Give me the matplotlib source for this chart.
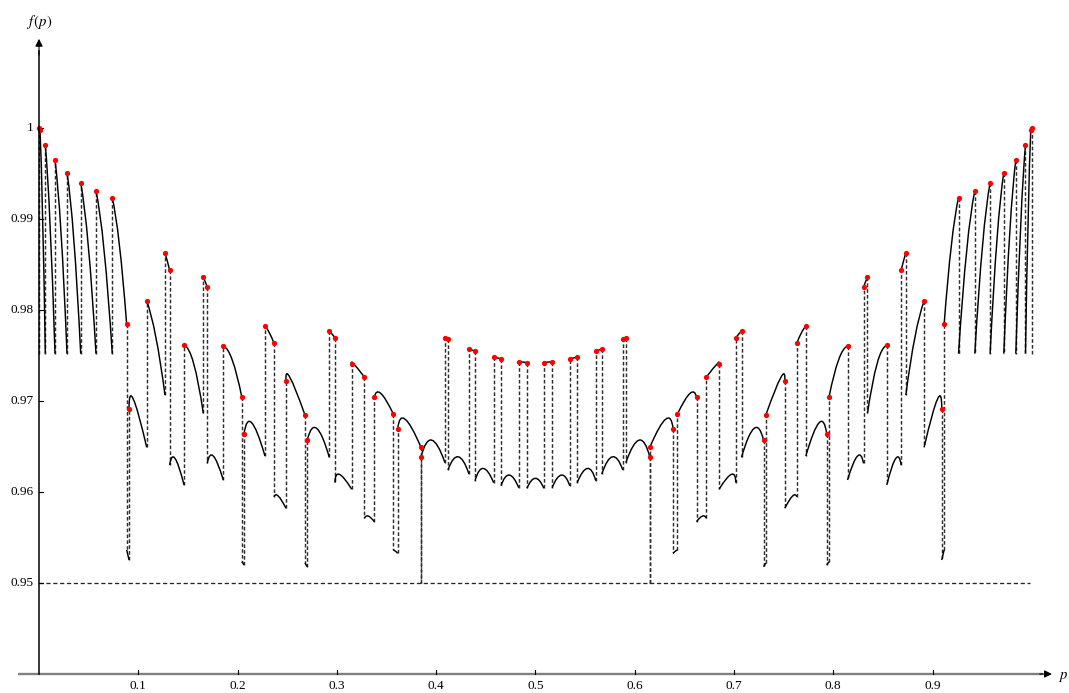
import numpy as np
import matplotlib.pyplot as plt
from matplotlib.path import Path
from matplotlib.patches import PathPatch

plt.rcParams['font.family'] = ['Liberation Serif', 'DejaVu Serif']
plt.rcParams['mathtext.fontset'] = 'stix'

# discontinuity points of f(p)
breaks = [0.0010, 0.00635, 0.01612, 0.0282, 0.0420, 0.0574, 0.0738, 0.0883, 0.0907, 0.1085,
          0.1269, 0.1316, 0.1461, 0.1655, 0.1695, 0.1856, 0.2042, 0.2065, 0.2276, 0.2367,
          0.2488, 0.2679, 0.2702, 0.2924, 0.2981, 0.3150, 0.3277, 0.3377, 0.3569, 0.3613,
          0.3845, 0.3848, 0.4089, 0.4120, 0.4331, 0.4392, 0.4580, 0.4654, 0.4832, 0.4915,
          0.5085, 0.5168, 0.5346, 0.5420, 0.5608, 0.5669, 0.5880, 0.5911, 0.6152, 0.6155,
          0.6387, 0.6431, 0.6623, 0.6723, 0.6850, 0.7019, 0.7076, 0.7298, 0.7321, 0.7512,
          0.7633, 0.7724, 0.7935, 0.7958, 0.8144, 0.8305, 0.8345, 0.8539, 0.8684, 0.8731,
          0.8915, 0.9093, 0.9117, 0.9262, 0.9426, 0.9580, 0.9718, 0.98388, 0.99365, 0.9990]

# value just after each break (segment start)
seg_start = [0.99978, 0.99816, 0.99648, 0.99509, 0.99399, 0.99308, 0.99234, 0.95363, 0.96915, 0.98099,
             0.98630, 0.96297, 0.97612, 0.98359, 0.96315, 0.97604, 0.95234, 0.96637, 0.97824, 0.95948,
             0.97223, 0.95220, 0.96571, 0.97769, 0.96102, 0.97407, 0.95711, 0.97041, 0.95363, 0.96696,
             0.9500, 0.96385, 0.97689, 0.96242, 0.97571, 0.96124, 0.97480, 0.96069, 0.97429, 0.96041,
             0.97421, 0.96047, 0.97462, 0.96102, 0.97549, 0.96198, 0.97678, 0.96322, 0.9500, 0.96498,
             0.95326, 0.96857, 0.95674, 0.97264, 0.96030, 0.97696, 0.96381, 0.95179, 0.96846, 0.95821,
             0.97634, 0.96396, 0.95198, 0.97047, 0.96132, 0.98253, 0.96865, 0.96077, 0.98436, 0.97066,
             0.96491, 0.95253, 0.97843, 0.9752, 0.9752, 0.9752, 0.9752, 0.9752, 0.9752]

# a point inside each segment (peak or middle)
seg_mid_p = [0.0037, 0.0112, 0.0222, 0.0351, 0.0497, 0.0656, 0.0810, 0.0895, 0.0950, 0.1177,
             0.1292, 0.1370, 0.1558, 0.1675, 0.1756, 0.1947, 0.2053, 0.2142, 0.2321, 0.2410,
             0.2528, 0.2690, 0.2797, 0.2952, 0.3025, 0.3166, 0.3317, 0.3442, 0.3591, 0.3687,
             0.38465, 0.3955, 0.4105, 0.4223, 0.4361, 0.4475, 0.4617, 0.4737, 0.4873, 0.5000,
             0.5127, 0.5263, 0.5383, 0.5525, 0.5639, 0.5777, 0.5895, 0.6045, 0.61535, 0.6313,
             0.6409, 0.6558, 0.6683, 0.6834, 0.6975, 0.7048, 0.7203, 0.7310, 0.7472, 0.7590,
             0.7679, 0.7858, 0.7947, 0.8053, 0.8244, 0.8325, 0.8442, 0.8630, 0.8708, 0.8823,
             0.9050, 0.9105, 0.9190, 0.9344, 0.9503, 0.9649, 0.9778, 0.9888, 0.9963]
seg_mid_f = [0.9905, 0.9895, 0.9886, 0.9878, 0.9871, 0.9866, 0.9872, 0.9531, 0.97022, 0.97707,
             0.9854, 0.96370, 0.97414, 0.98310, 0.96396, 0.97451, 0.9522, 0.96762, 0.9775, 0.95956,
             0.97260, 0.9520, 0.96700, 0.97735, 0.96195, 0.97414, 0.95736, 0.97085, 0.9535, 0.96802,
             0.9500, 0.96571, 0.97690, 0.96388, 0.9756, 0.96260, 0.97474, 0.96187, 0.97428, 0.96151,
             0.97428, 0.96187, 0.97474, 0.96260, 0.9756, 0.96388, 0.97690, 0.96571, 0.9500, 0.96802,
             0.9535, 0.97085, 0.95736, 0.97414, 0.96195, 0.97735, 0.96700, 0.9520, 0.97260, 0.95956,
             0.9775, 0.96762, 0.9522, 0.97451, 0.96396, 0.98310, 0.97414, 0.96370, 0.9854, 0.97707,
             0.97022, 0.9531, 0.9872, 0.9866, 0.9871, 0.9878, 0.9886, 0.9895, 0.9905]

# value just before the next break (segment end)
seg_end = [0.9752, 0.9752, 0.9752, 0.9752, 0.9752, 0.9752, 0.97843, 0.95253, 0.96491, 0.97066,
           0.98436, 0.96077, 0.96865, 0.98253, 0.96132, 0.97047, 0.95198, 0.96396, 0.97634, 0.95821,
           0.96846, 0.95179, 0.96381, 0.97696, 0.96030, 0.97264, 0.95674, 0.96857, 0.95326, 0.96498,
           0.9500, 0.96322, 0.97678, 0.96198, 0.97549, 0.96102, 0.97462, 0.96047, 0.97421, 0.96041,
           0.97429, 0.96069, 0.97480, 0.96124, 0.97571, 0.96242, 0.97689, 0.96385, 0.9500, 0.96696,
           0.95363, 0.97041, 0.95711, 0.97407, 0.96102, 0.97769, 0.96571, 0.95220, 0.97223, 0.95948,
           0.97824, 0.96637, 0.95234, 0.97604, 0.96315, 0.98359, 0.97612, 0.96297, 0.98630, 0.98099,
           0.96915, 0.95363, 0.99234, 0.99308, 0.99399, 0.99509, 0.99648, 0.99816, 0.99978]

# red points f(p) at the breaks
dot_p = [0.0, 0.0010, 0.00635, 0.01612, 0.0282, 0.0420, 0.0574, 0.0738, 0.0883, 0.0907,
         0.1085, 0.1269, 0.1316, 0.1461, 0.1655, 0.1695, 0.1856, 0.2042, 0.2065, 0.2276,
         0.2367, 0.2488, 0.2679, 0.2702, 0.2924, 0.2981, 0.3150, 0.3277, 0.3377, 0.3569,
         0.3613, 0.3845, 0.3848, 0.4089, 0.4120, 0.4331, 0.4392, 0.4580, 0.4654, 0.4832,
         0.4915, 0.5085, 0.5168, 0.5346, 0.5420, 0.5608, 0.5669, 0.5880, 0.5911, 0.6152,
         0.6155, 0.6387, 0.6431, 0.6623, 0.6723, 0.6850, 0.7019, 0.7076, 0.7298, 0.7321,
         0.7512, 0.7633, 0.7724, 0.7935, 0.7958, 0.8144, 0.8305, 0.8345, 0.8539, 0.8684,
         0.8731, 0.8915, 0.9093, 0.9117, 0.9262, 0.9426, 0.9580, 0.9718, 0.98388, 0.99365,
         0.9990, 1.0]
dot_f = [1.0, 0.99978, 0.99816, 0.99648, 0.99509, 0.99399, 0.99308, 0.99234, 0.97843, 0.96915,
         0.98099, 0.98630, 0.98436, 0.97612, 0.98359, 0.98253, 0.97604, 0.97047, 0.96637, 0.97824,
         0.97634, 0.97223, 0.96846, 0.96571, 0.97769, 0.97696, 0.97407, 0.97264, 0.97041, 0.96857,
         0.96696, 0.96498, 0.96385, 0.97689, 0.97678, 0.97571, 0.97549, 0.97480, 0.97462, 0.97429,
         0.97421, 0.97421, 0.97429, 0.97462, 0.97480, 0.97549, 0.97571, 0.97678, 0.97689, 0.96385,
         0.96498, 0.96696, 0.96857, 0.97041, 0.97264, 0.97407, 0.97696, 0.97769, 0.96571, 0.96846,
         0.97223, 0.97634, 0.97824, 0.96637, 0.97047, 0.97604, 0.98253, 0.98359, 0.97612, 0.98436,
         0.98630, 0.98099, 0.96915, 0.97843, 0.99234, 0.99308, 0.99399, 0.99509, 0.99648, 0.99816,
         0.99978, 1.0]

edge_p = [0.0, 1.0]
edge_low = [0.9752, 0.9752]
edge_high = [1.0, 1.0]

level = 0.95
x_ticks = [0.1, 0.2, 0.3, 0.4, 0.5, 0.6, 0.7, 0.8, 0.9]
x_labels = ['0.1', '0.2', '0.3', '0.4', '0.5', '0.6', '0.7', '0.8', '0.9']
y_ticks = [0.95, 0.96, 0.97, 0.98, 0.99, 1.0]
y_labels = ['0.95', '0.96', '0.97', '0.98', '0.99', '1']

fig = plt.figure(figsize=(10.69, 6.93), dpi=100)
ax = fig.add_axes([0, 0, 1, 1])
ax.set_xlim(-0.03928, 1.03747)
ax.set_ylim(0.937912, 1.014066)
ax.axis('off')

dash = (0, (2.5, 1.5))

# jumps
ax.vlines(breaks[1:-1], seg_end[:-1], seg_start[1:], colors='#2e2e2e',
          linestyles=[dash], lw=1.05, zorder=2)
ax.vlines(edge_p, edge_low, edge_high, colors='#2e2e2e', linestyles=[dash], lw=1.05, zorder=2)

# smooth pieces between the breaks
for i in range(len(seg_start)):
    s = np.array([breaks[i], seg_start[i]])
    m = np.array([seg_mid_p[i], seg_mid_f[i]])
    e = np.array([breaks[i + 1], seg_end[i]])
    c = 2 * m - (s + e) / 2
    path = Path([s, c, e], [Path.MOVETO, Path.CURVE3, Path.CURVE3])
    ax.add_patch(PathPatch(path, fc='none', ec='black', lw=1.05, zorder=3))

ax.hlines(level, 0, 0.998, colors='#262626', linestyles=[(0, (3.2, 2.0))], lw=0.95, zorder=2)

ax.plot(dot_p, dot_f, 'o', color='red', ms=3.8, mec='none', zorder=5)

# axes in the Mathematica style
ax.plot([-0.0211, 1.011], [0.94, 0.94], color='#808080', lw=1.7, zorder=1, solid_capstyle='butt')
ax.annotate('', xy=(1.0203, 0.94), xytext=(1.008, 0.94),
            arrowprops=dict(arrowstyle='-|>', color='black', lw=0.8, mutation_scale=11,
                            shrinkA=0, shrinkB=0))
ax.plot([0, 0], [0.94, 1.0085], color='black', lw=1.1, zorder=6)
ax.annotate('', xy=(0, 1.0098), xytext=(0, 1.0080),
            arrowprops=dict(arrowstyle='-|>', color='black', lw=0.8, mutation_scale=11,
                            shrinkA=0, shrinkB=0))

for t, lab in zip(x_ticks, x_labels):
    ax.plot([t, t], [0.94, 0.94044], color='black', lw=0.8)
    ax.text(t, 0.93868, lab, ha='center', va='center', fontsize=9.5)
for t, lab in zip(y_ticks, y_labels):
    ax.plot([0, 0.004], [t, t], color='black', lw=0.8)
    ax.text(-0.0058, t, lab, ha='right', va='center', fontsize=9.5)

ax.text(0.0005, 1.01126, r'$f\,(p)$', ha='center', va='baseline', fontsize=10.5)
ax.text(1.0314, 0.93945, r'$p$', ha='center', va='baseline', fontsize=10.5)

fig.savefig('out.png', dpi=100)
